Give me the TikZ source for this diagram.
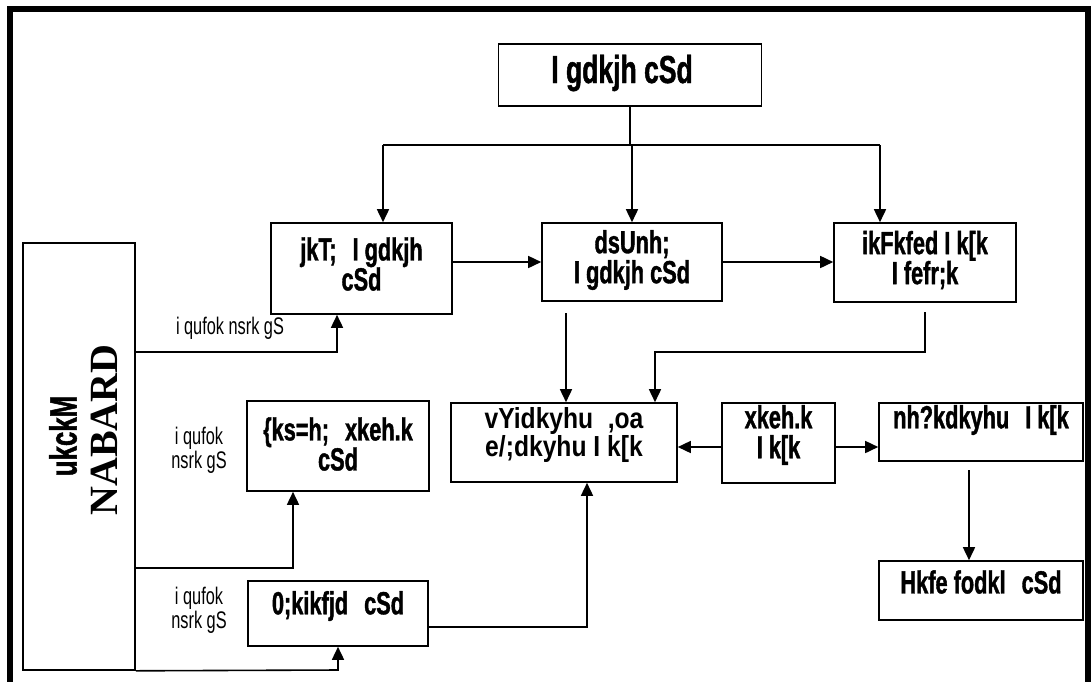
\documentclass[tikz,border=0pt]{standalone}
\usepackage{fontspec}
\setmainfont{Liberation Sans}
\newfontfamily\kdb[FakeStretch=0.68,FakeBold=1.2,UprightFont={* Bold}]{Liberation Sans}
\newfontfamily\kdm[FakeStretch=0.85,UprightFont={* Bold}]{Liberation Sans}
\newfontfamily\kdl[FakeStretch=0.68]{Liberation Sans}
\newfontfamily\tms{Liberation Serif}
\usetikzlibrary{arrows.meta}
\begin{document}
\begin{tikzpicture}[x=1pt,y=-1pt,
  box/.style={draw, line width=1.6pt, inner sep=0pt},
  txt/.style={align=center, inner sep=0pt, font=\kdb\fontsize{32}{30}\selectfont},
  lbl/.style={align=center, inner sep=0pt, font=\kdl\fontsize{24}{24}\selectfont},
  ln/.style={line width=1.6pt},
  arr/.style={line width=1.6pt, -{Triangle[length=13pt,width=12pt]}}]
\clip (0,0) rectangle (1091,681);
% outer frame
\draw[line width=6pt] (10,720) -- (10,9) -- (1088,9) -- (1088,720);
% boxes
\node[box, minimum width=263pt, minimum height=62pt] (top) at (630,75) {};
\node[txt, font=\kdb\fontsize{39}{36}\selectfont] (top-t) at (622,73) {I gdkjh cSd};
\node[box, minimum width=181pt, minimum height=91pt] (rajya) at (361.5,268.5) {};
\node[txt] (rajya-t) at (361.5,264) {jkT;\enspace I gdkjh\\cSd};
\node[box, minimum width=180pt, minimum height=78pt] (kendra) at (632,262) {};
\node[txt] (kendra-t) at (632,260) {dsUnh;\\I gdkjh cSd};
\node[box, minimum width=182pt, minimum height=79pt] (prath) at (925,262.5) {};
\node[txt] (prath-t) at (925,260) {ikFkfed I k[k\\I fefr;k};
\node[box, minimum width=226pt, minimum height=79pt] (mid) at (564,442.5) {};
\node[txt, font=\kdm\fontsize{29}{28}\selectfont] (mid-t) at (564,435) {vYidkyhu\enspace ,oa\\e/;dkyhu I k[k};
\node[box, minimum width=113pt, minimum height=80pt] (gram) at (778.5,443) {};
\node[txt] (gram-t) at (778.5,435) {xkeh.k\\I k[k};
\node[box, minimum width=204pt, minimum height=58pt] (dirgh) at (981,432) {};
\node[txt] (dirgh-t) at (981,420) {nh?kdkyhu\enspace I k[k};
\node[box, minimum width=204pt, minimum height=59pt] (bhumi) at (981,590.5) {};
\node[txt] (bhumi-t) at (981,582) {Hkfe fodkl\enspace cSd};
\node[box, minimum width=182pt, minimum height=90pt] (kshetr) at (338,446) {};
\node[txt] (kshetr-t) at (338,444) {\{ks=h;\enspace xkeh.k\\cSd};
\node[box, minimum width=180pt, minimum height=65pt] (vyap) at (338,613.5) {};
\node[txt] (vyap-t) at (338,606) {0;kikfjd\enspace cSd};
\node[box, minimum width=112pt, minimum height=427pt] (nabard) at (79,456.5) {};
\node[rotate=90, inner sep=0pt, font=\kdb\fontsize{38}{38}\selectfont] (nb1) at (63,436) {ukckM};
\node[rotate=90, inner sep=0pt, font=\tms\bfseries\fontsize{40}{40}\selectfont] (nb2) at (104,430) {NABARD};
% labels
\node[lbl] (l1) at (230,328) {i qufok nsrk gS};
\node[lbl] (l2) at (199,450) {i qufok\\nsrk gS};
\node[lbl] (l3) at (199,610) {i qufok\\nsrk gS};
% coordinates
\coordinate (j0) at (630,145);
\coordinate (ja) at (383,145);
\coordinate (jb) at (632,145);
\coordinate (jc) at (880,145);
\coordinate (k1) at (566,313);
\coordinate (p1) at (925,312);
\coordinate (p2) at (655,352);
\coordinate (v1) at (587,627);
\coordinate (d1) at (969,470);
\coordinate (t1) at (337,352);
\coordinate (t2) at (293,568);
\coordinate (t3) at (338,670);
% connectors
\draw[ln] (top.south -| j0) -- (j0);
\draw[ln] (ja) -- (jc);
\draw[arr] (ja) -- (rajya.north -| ja);
\draw[arr] (jb) -- (kendra.north -| jb);
\draw[arr] (jc) -- (prath.north -| jc);
\draw[arr] (rajya.east |- kendra.west) -- (kendra.west);
\draw[arr] (kendra.east) -- (prath.west |- kendra.east);
\draw[arr] (k1) -- (mid.north -| k1);
\draw[arr] (p1) |- (p2) -- (mid.north -| p2);
\draw[arr] (vyap.east |- v1) -- (v1) -- (mid.south -| v1);
\draw[arr] (gram.west |- 0,447) -- (mid.east |- 0,447);
\draw[arr] (gram.east |- 0,447) -- (dirgh.west |- 0,447);
\draw[arr] (d1) -- (bhumi.north -| d1);
\draw[arr] (nabard.east |- t1) -- (t1) -- (rajya.south -| t1);
\draw[arr] (nabard.east |- t2) -- (t2) -- (kshetr.south -| t2);
\draw[arr] (nabard.south east) -- (t3) -- (vyap.south -| t3);
\end{tikzpicture}
\end{document}
